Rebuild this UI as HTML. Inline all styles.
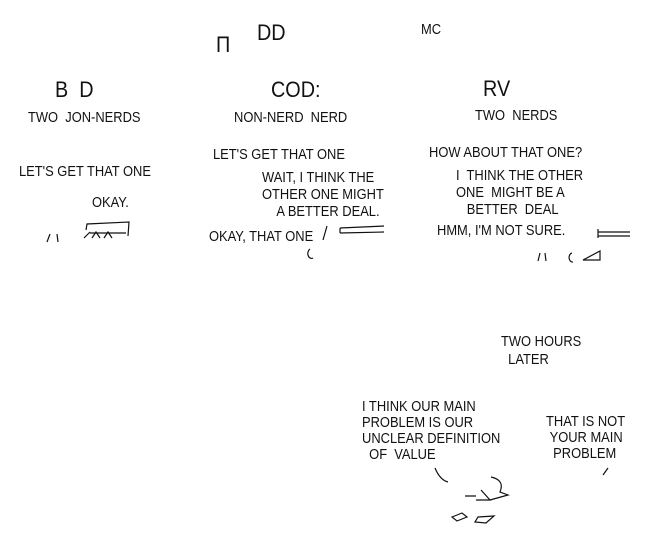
<!DOCTYPE html>
<html><head><style>
body{margin:0;width:659px;height:554px;background:#fff;position:relative;overflow:hidden;font-family:"Liberation Sans",sans-serif;color:#111}
.t{position:absolute;font-size:15px;line-height:16px;white-space:nowrap;transform:scaleX(0.86);transform-origin:left top}
.b{font-size:22px;line-height:22px;transform:scaleX(0.9)}
</style></head><body>
<div class="t b" style="left:257px;top:22px">DD</div>
<div class="t" style="left:421px;top:22px">MC</div>
<div class="t b" style="left:216px;top:34px">П</div>
<div class="t b" style="left:55px;top:79px">B&nbsp; D</div>
<div class="t b" style="left:271px;top:79px">COD:</div>
<div class="t b" style="left:483px;top:78px">RV</div>
<div class="t" style="left:28px;top:110px">TWO&nbsp; JON-NERDS</div>
<div class="t" style="left:234px;top:110px">NON-NERD&nbsp; NERD</div>
<div class="t" style="left:475px;top:108px">TWO&nbsp; NERDS</div>
<div class="t" style="left:213px;top:147px">LET'S GET THAT ONE</div>
<div class="t" style="left:429px;top:145px">HOW ABOUT THAT ONE?</div>
<div class="t" style="left:19px;top:164px">LET'S GET THAT ONE</div>
<div class="t" style="left:262px;top:169px;line-height:17px">WAIT, I THINK THE<br>OTHER ONE MIGHT<br>&nbsp;&nbsp;&nbsp;&nbsp;A BETTER DEAL.</div>
<div class="t" style="left:456px;top:167px;line-height:17px">I&nbsp; THINK THE OTHER<br>ONE&nbsp; MIGHT BE A<br>&nbsp;&nbsp;&nbsp;BETTER&nbsp; DEAL</div>
<div class="t" style="left:92px;top:195px">OKAY.</div>
<div class="t" style="left:209px;top:229px">OKAY, THAT ONE</div>
<div class="t" style="left:437px;top:223px">HMM, I'M NOT SURE.</div>
<div class="t" style="left:501px;top:333px;line-height:18px">TWO HOURS<br>&nbsp;&nbsp;LATER</div>
<div class="t" style="left:362px;top:399px;line-height:16px">I THINK OUR MAIN<br>PROBLEM IS OUR<br>UNCLEAR DEFINITION<br>&nbsp;&nbsp;OF&nbsp; VALUE</div>
<div class="t" style="left:546px;top:414px;line-height:16px">THAT IS NOT<br>&nbsp;YOUR MAIN<br>&nbsp;&nbsp;PROBLEM</div>
<svg width="659" height="554" style="position:absolute;left:0;top:0" fill="none" stroke="#111" stroke-width="1.2">
<path d="M86 230 L87 224 L129 222 L128 236 M84 238 L90 232 M90 233 L126 233 M92 238 L96 232 L100 238 M104 238 L108 232 L112 238"/>
<path d="M340 228 L384 226 M340 233 L384 232 M340 228 L340 233 M327 226 L323 240"/>
<path d="M598 232 L630 232 M598 236 L630 236 M598 229 L598 238"/>
<path d="M50 234 L47 242 M57 234 L58 242 M310 249 A3 4 0 1 0 313 258 M540 253 L538 261 M545 253 L546 261 M572 253 A3 4 0 1 0 573 262"/>
<path d="M583 260 L600 260 L600 251 Z"/>
<path d="M435 468 Q440 480 448 482 M603 475 L608 468"/>
<path d="M491 477 Q505 480 500 492 L508 495 L490 500 M481 490 L490 500 L476 500 M465 496 L476 496"/>
<path d="M452 517 L462 513 L467 517 L457 521 Z M478 517 L494 516 L486 523 L475 522 Z"/>
</svg>
</body></html>
